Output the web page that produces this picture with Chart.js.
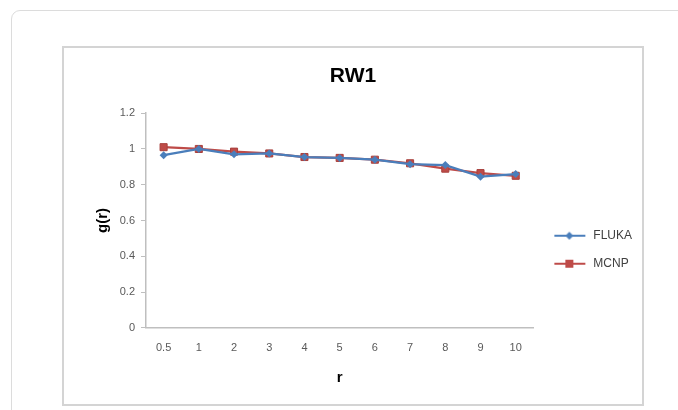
<!DOCTYPE html>
<html>
<head>
<meta charset="utf-8">
<script src="https://cdn.jsdelivr.net/npm/chart.js@4.4.1/dist/chart.umd.min.js"></script>
<style>
  body { margin: 0; background: #fff; }
  #card {
    position: absolute; left: 11px; top: 10px; width: 700px; height: 440px;
    border: 1px solid #dcdcdc; border-radius: 9px; box-sizing: border-box;
  }
  #box {
    position: absolute; left: 62px; top: 46px; width: 582px; height: 360px;
    border: 2px solid #d4d4d4; box-sizing: border-box; background: #fff;
  }
  #wrap { position: absolute; left: 0; top: 0; width: 578px; height: 356px; }
</style>
</head>
<body>
<div id="card"></div>
<div id="box"><div id="wrap"><canvas id="chart"></canvas></div></div>
<script>
const categories = ["0.5", "1", "2", "3", "4", "5", "6", "7", "8", "9", "10"];
const fluka = [0.965, 1.0, 0.97, 0.975, 0.955, 0.95, 0.94, 0.915, 0.91, 0.845, 0.86];
const mcnp = [1.01, 1.0, 0.985, 0.975, 0.955, 0.95, 0.94, 0.92, 0.89, 0.865, 0.85];
const yTicks = [0, 0.2, 0.4, 0.6, 0.8, 1, 1.2];

const blue = "#4a7ebb";
const red = "#be4b48";

// small line+marker swatch for the legend, like the Excel one
function swatch(color, marker) {
  const c = document.createElement("canvas");
  c.width = 38; c.height = 12;
  const g = c.getContext("2d");
  g.strokeStyle = color; g.lineWidth = 2;
  g.beginPath(); g.moveTo(5, 6); g.lineTo(36, 6); g.stroke();
  g.fillStyle = color;
  if (marker === "rect") {
    g.fillRect(16, 2, 8, 8);
  } else {
    g.beginPath(); g.moveTo(20, 2); g.lineTo(24, 6); g.lineTo(20, 10); g.lineTo(16, 6); g.closePath(); g.fill();
  }
  return c;
}

const font = "'Liberation Sans', Arial, sans-serif";

new Chart(document.getElementById("chart"), {
  type: "line",
  data: {
    labels: categories,
    datasets: [
      {
        label: "FLUKA", data: fluka, borderColor: blue, backgroundColor: blue,
        borderWidth: 2.25, pointStyle: "rectRot", pointRadius: 4, pointBorderWidth: 0, tension: 0
      },
      {
        label: "MCNP", data: mcnp, borderColor: red, backgroundColor: red,
        borderWidth: 2.25, pointStyle: "rect", pointRadius: 5, pointBorderColor: "#a8403d", pointBorderWidth: 1, tension: 0
      }
    ]
  },
  options: {
    responsive: true,
    maintainAspectRatio: false,
    animation: false,
    layout: { padding: { left: 0, right: 0, bottom: 13 } },
    plugins: {
      title: {
        display: true, text: "RW1", color: "#000",
        font: { family: font, size: 21, weight: "bold" },
        padding: { top: 16, bottom: 24 }
      },
      legend: {
        position: "right",
        title: { display: true, text: " ", font: { size: 2 }, padding: { top: 0, bottom: 58 } },
        labels: {
          usePointStyle: true, pointStyleWidth: 38, color: "#404040", padding: 16,
          font: { family: font, size: 12 },
          generateLabels: chart => chart.data.datasets.map((d, i) => ({
            text: d.label, fontColor: "#404040",
            pointStyle: swatch(d.borderColor, i === 0 ? "diamond" : "rect"),
            datasetIndex: i, hidden: false, lineWidth: 0
          }))
        }
      },
      tooltip: { enabled: false }
    },
    scales: {
      x: {
        offset: true,
        grid: { drawOnChartArea: false, drawTicks: false },
        border: { color: "#bfbfbf", width: 1.5 },
        ticks: { color: "#595959", font: { family: font, size: 11 }, padding: 14, maxRotation: 0 },
        title: { display: true, text: "r", color: "#000", font: { family: font, size: 15, weight: "bold" }, padding: { top: 0, bottom: 4 } }
      },
      y: {
        min: 0, max: 1.2,
        afterBuildTicks: axis => { axis.ticks = yTicks.map(v => ({ value: v })); },
        afterFit: axis => { axis.width = 82; },
        grid: { drawOnChartArea: false, drawTicks: true, tickLength: 5, color: "#bfbfbf" },
        border: { color: "#bfbfbf", width: 1.5 },
        ticks: { color: "#595959", font: { family: font, size: 11 }, padding: 6, callback: v => String(v) },
        title: { display: true, text: "g(r)", color: "#000", font: { family: font, size: 15, weight: "bold" }, padding: { top: 30, bottom: 1 } }
      }
    }
  }
});
</script>
</body>
</html>
